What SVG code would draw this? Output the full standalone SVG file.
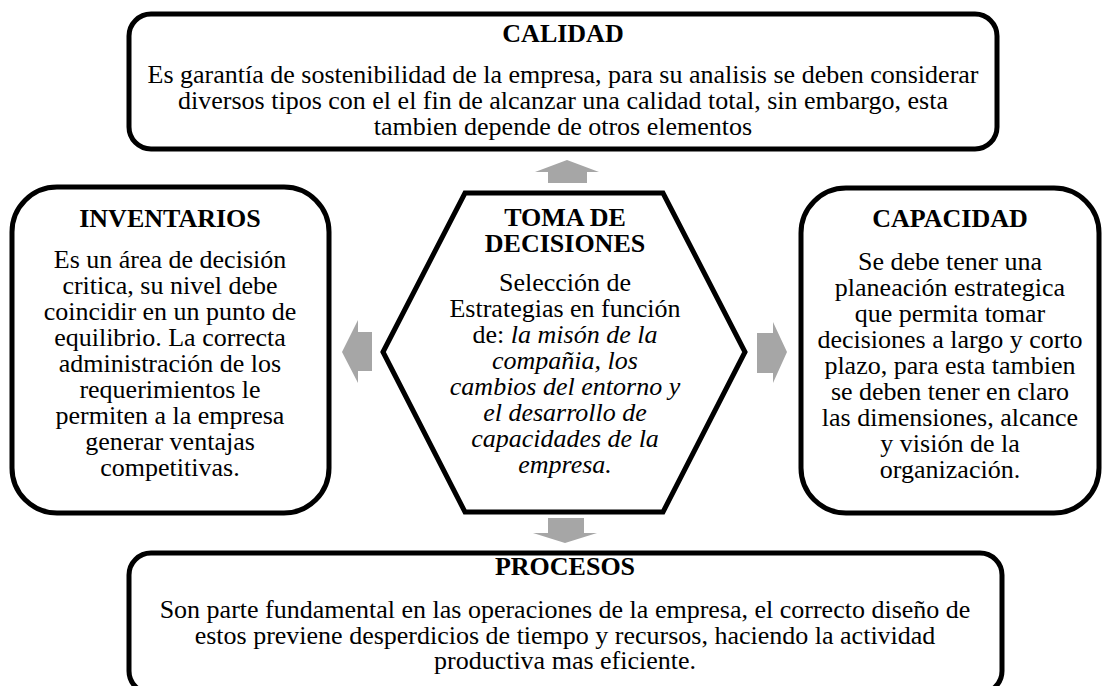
<svg xmlns="http://www.w3.org/2000/svg" width="1105" height="686" viewBox="0 0 1105 686">
<style>
.box{fill:#fff;stroke:#000;stroke-width:5}
.arr{fill:#a6a6a6;stroke:none}
text{font-family:"Liberation Serif","Times New Roman",serif;font-size:26px;fill:#000;text-anchor:middle}
.t{font-weight:bold}
.i{font-style:italic}
</style>
<rect width="1105" height="686" fill="#fff"/>
<g id="connectors">
<polygon class="arr" points="567,160 599,172 587,172 587,183 548,183 548,172 535,172"/>
<polygon class="arr" points="342,352 358,320 358,332 372,332 372,371 358,371 358,383"/>
<polygon class="arr" points="787,352 773,322 773,333 757,333 757,373 773,373 773,383"/>
<polygon class="arr" points="548,518 584,518 584,533 597,533 565,543 533,533 548,533"/>
</g>
<g id="calidad">
<rect class="box" x="129" y="14" width="868" height="135" rx="22"/>
<text class="t" x="563" y="42">CALIDAD</text>
<text x="563" y="83">Es garantía de sostenibilidad de la empresa, para su analisis se deben considerar</text>
<text x="563" y="109">diversos tipos con el el fin de alcanzar una calidad total, sin embargo, esta</text>
<text x="563" y="135">tambien depende de otros elementos</text>
</g>
<g id="inventarios">
<rect class="box" x="12" y="187" width="317" height="326" rx="45"/>
<text class="t" x="170" y="227">INVENTARIOS</text>
<text x="170" y="268">Es un área de decisión</text>
<text x="170" y="294">critica, su nivel debe</text>
<text x="170" y="320">coincidir en un punto de</text>
<text x="170" y="346">equilibrio. La correcta</text>
<text x="170" y="372">administración de los</text>
<text x="170" y="398">requerimientos le</text>
<text x="170" y="424">permiten a la empresa</text>
<text x="170" y="450">generar ventajas</text>
<text x="170" y="476">competitivas.</text>
</g>
<g id="toma">
<polygon class="box" points="383,352 465,193 663,193 745,352 663,512 465,512"/>
<text class="t" x="565" y="226">TOMA DE</text>
<text class="t" x="565" y="252">DECISIONES</text>
<text x="565" y="291">Selección de</text>
<text x="565" y="317">Estrategias en función</text>
<text x="565" y="343">de: <tspan class="i">la misón de la</tspan></text>
<text class="i" x="565" y="369">compañia, los</text>
<text class="i" x="565" y="395">cambios del entorno y</text>
<text class="i" x="565" y="421">el desarrollo de</text>
<text class="i" x="565" y="447">capacidades de la</text>
<text class="i" x="565" y="473">empresa.</text>
</g>
<g id="capacidad">
<rect class="box" x="801" y="188" width="298" height="325" rx="45"/>
<text class="t" x="950" y="227">CAPACIDAD</text>
<text x="950" y="270">Se debe tener una</text>
<text x="950" y="296">planeación estrategica</text>
<text x="950" y="322">que permita tomar</text>
<text x="950" y="348">decisiones a largo y corto</text>
<text x="950" y="374">plazo, para esta tambien</text>
<text x="950" y="400">se deben tener en claro</text>
<text x="950" y="426">las dimensiones, alcance</text>
<text x="950" y="452">y visión de la</text>
<text x="950" y="478">organización.</text>
</g>
<g id="procesos">
<rect class="box" x="129" y="553" width="873" height="140" rx="22"/>
<text class="t" x="565" y="575">PROCESOS</text>
<text x="565" y="618">Son parte fundamental en las operaciones de la empresa, el correcto diseño de</text>
<text x="565" y="644">estos previene desperdicios de tiempo y recursos, haciendo la actividad</text>
<text x="565" y="669">productiva mas eficiente.</text>
</g>
</svg>
